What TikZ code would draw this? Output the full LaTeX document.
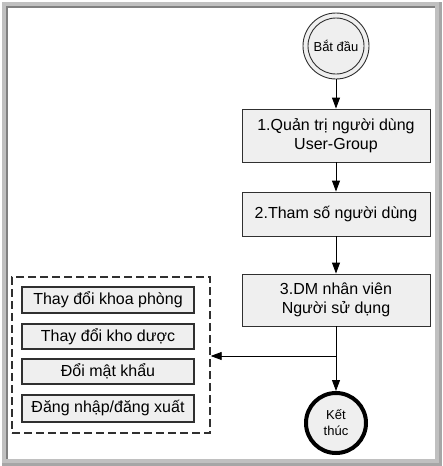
\documentclass[tikz,border=0pt]{standalone}
\usepackage{fontspec}
\setmainfont{Liberation Sans}
\usetikzlibrary{arrows.meta}
\definecolor{boxfill}{HTML}{EFEFEF}
\definecolor{frameL}{HTML}{C0C0C0}
\definecolor{frameD}{HTML}{808080}
\definecolor{edge}{HTML}{303030}
\tikzset{
  procbox/.style={draw=edge, line width=0.9pt, fill=boxfill, minimum width=188pt, align=center, inner sep=0pt,
    font=\fontsize{16}{19.5}\selectfont},
  subbox/.style={draw=edge, line width=1.1pt, fill=boxfill, minimum width=172pt, align=center, inner sep=0pt,
    font=\fontsize{16}{19.5}\selectfont},
  grp/.style={draw=edge, line width=1.4pt, dash pattern=on 8pt off 4pt, minimum width=198pt, minimum height=156pt, inner sep=0pt},
  flow/.style={draw=black, line width=0.9pt, -{Triangle[length=11pt,width=8pt]}},
  termtxt/.style={font=\fontsize{13}{16}\selectfont, align=center}
}
\begin{document}
\begin{tikzpicture}[x=1pt,y=-1pt]
\useasboundingbox (0,0) rectangle (442,466);
% outer frame
\fill[white] (0,0) rectangle (442,466);
\fill[frameL] (1.5,1.5) rectangle (442,466);
\fill[black!35] (439,1.5) rectangle (442,466);
\fill[black!35] (1.5,463) rectangle (442,466);
\fill[white] (6,6) rectangle (435,459);
\draw[frameD, line width=2pt] (7,459) -- (7,7) -- (435,7);

% start
\node[circle, draw=edge, line width=0.9pt, fill=boxfill, minimum size=66pt, inner sep=0pt] (start) at (336,46) {};
\node[circle, draw=edge, line width=0.9pt, fill=boxfill, minimum size=56pt, inner sep=0pt, termtxt] (startin) at (336,46) {Bắt đầu};

% process boxes
\node[procbox, minimum height=53pt] (p1) at (336,135.5) {1.Quản trị người dùng\\User-Group};
\node[procbox, minimum height=44pt] (p2) at (336,214) {2.Tham số người dùng};
\node[procbox, minimum height=52pt] (p3) at (336,300) {3.DM nhân viên\\Người sử dụng};

% end
\node[circle, draw=black, line width=4pt, fill=boxfill, minimum size=60pt, inner sep=0pt, termtxt] (end) at (336,423) {Kết\\thúc};

% group
\node[grp] (g) at (111,355) {};
\node[subbox, minimum height=26pt] (s1) at (108,300) {Thay đổi khoa phòng};
\node[subbox, minimum height=25pt] (s2) at (108,336.5) {Thay đổi kho dược};
\node[subbox, minimum height=25pt] (s3) at (108,371.5) {Đổi mật khẩu};
\node[subbox, minimum height=27pt] (s4) at (108,408.5) {Đăng nhập/đăng xuất};

% connectors
\draw[flow] (start) -- (p1);
\draw[flow] (p1) -- (p2);
\draw[flow] (p2) -- (p3);
\draw[flow] (p3) -- (end);
\coordinate (j) at (336,356);
\draw[flow] (j) -- (g.east |- j);
\end{tikzpicture}
\end{document}
